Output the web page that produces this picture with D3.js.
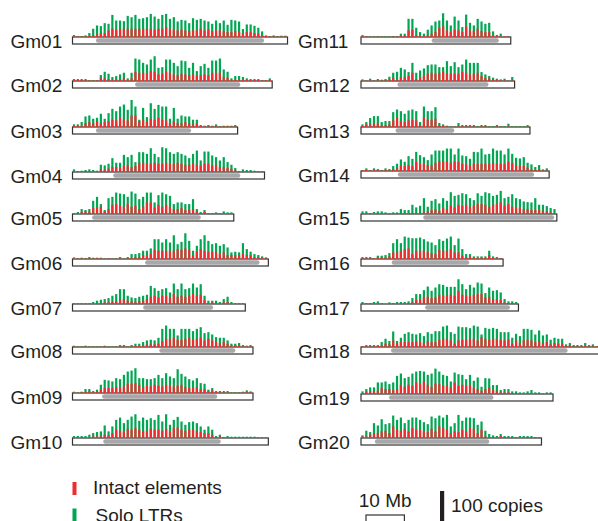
<!DOCTYPE html>
<html>
<head>
<meta charset="utf-8">
<script src="https://cdn.jsdelivr.net/npm/d3@7"></script>
<style>
  body { margin: 0; background: #fff; }
  svg { display: block; font-family: "Liberation Sans", Arial, sans-serif; }
</style>
</head>
<body>
<div id="chart"></div>
<script>
// chromosome names, left column then right column
var chroms = ["Gm01","Gm02","Gm03","Gm04","Gm05","Gm06","Gm07","Gm08","Gm09","Gm10",
              "Gm11","Gm12","Gm13","Gm14","Gm15","Gm16","Gm17","Gm18","Gm19","Gm20"];

// pericentromeric region [start, end] in Mb
var pericentromere = [
  [6.1,49.9],[16.3,43.7],[6.1,30.9],[10.6,43.7],[5.1,33.4],
  [18.9,48.7],[18.4,36.6],[22.6,42.4],[7.7,37.7],[8,38.6],
  [18.4,35.9],[9.5,33.2],[9,24.3],[9.6,45.1],[16.2,50.3],
  [8,28.2],[16.7,38.8],[7.8,53.8],[7.3,34.5],[3.6,33.4]
];

// all LTR copies per 1 Mb bin (intact elements + solo LTRs)
var total = [
  [6,3,3,5,12,25,35,33,42,40,67,50,50,48,64,60,67,55,57,60,70,62,55,67,70,55,60,47,52,50,42,57,52,55,50,47,40,50,42,50,37,52,50,47,24,38,38,34,28,17,5,3,5,3,4,4],
  [6,6,6,6,3,3,3,18,28,22,12,15,20,25,8,25,68,65,55,50,65,75,40,42,65,65,55,45,62,60,40,55,30,45,52,40,62,62,68,35,28,8,15,15,12,8,6,6,6,3,3,8],
  [8,8,15,32,35,25,28,40,25,42,55,48,62,68,52,82,62,22,58,30,72,55,67,62,62,25,58,25,35,32,32,22,22,6,4,6,4,8,3,4,4,4,6],
  [8,3,4,6,8,6,4,22,20,25,42,28,28,52,45,52,30,60,60,55,72,55,45,75,72,60,55,60,55,50,42,55,65,35,62,62,50,45,35,45,30,22,12,3,8,6,6,4,3,3],
  [3,6,15,12,15,40,52,30,12,48,52,65,62,60,52,68,62,45,52,65,65,35,57,65,60,55,30,35,35,30,30,45,15,6,12,3,3,5,3,8,5,5],
  [5,3,4,3,6,4,4,4,2,3,2,2,6,2,6,15,15,18,25,25,32,60,60,50,60,50,72,45,52,78,55,25,40,60,72,55,45,48,40,45,35,20,22,20,48,30,22,15,12,8,5],
  [3,2,2,2,2,6,10,13,15,18,25,30,45,45,25,20,18,22,25,28,55,48,40,45,48,35,62,45,62,45,48,62,50,60,25,10,10,10,6,15,22,6,2,2,2],
  [4,2,2,4,2,2,2,2,4,2,2,2,6,6,2,6,10,10,15,20,22,20,28,55,65,55,55,35,55,55,55,48,55,60,42,45,38,30,28,28,20,10,10,12,6,4,6],
  [4,2,4,12,12,6,10,25,40,38,35,45,42,55,65,68,75,45,45,42,42,45,55,45,60,50,45,72,58,50,42,38,45,30,28,10,15,6,6,6,6,2,2,2,4,8,5],
  [6,6,6,6,10,15,18,20,38,20,35,55,62,45,55,65,72,52,62,55,60,55,70,50,72,40,55,64,50,40,48,50,45,35,25,35,25,6,10,3,6,4,4,4,4,4,4,4,2,2,2],
  [6,3,2,2,3,2,2,2,3,3,10,10,55,55,28,15,10,22,35,47,50,72,50,35,62,50,30,68,43,35,55,47,40,43,17,6,10,2,3],
  [5,2,7,2,6,4,6,13,25,28,40,35,27,55,25,32,38,48,50,50,42,42,60,45,57,42,50,65,55,55,55,27,20,15,10,7,5,7,2,12],
  [8,15,27,33,33,15,18,18,45,53,48,40,50,53,48,15,62,48,48,60,12,8,4,2,2,12,6,6,6,6,3,6,6,3,3,6,3,3,10,3,3,3,3,6],
  [3,8,3,8,6,3,8,6,15,22,35,28,45,37,58,48,42,33,50,62,62,62,68,68,50,68,47,45,37,58,57,68,50,52,68,62,62,50,68,52,40,38,42,25,20,12,18,5,8],
  [8,8,3,6,8,8,5,3,5,5,15,12,12,28,20,25,48,22,40,45,32,48,40,66,55,58,63,60,48,42,63,55,66,63,55,58,70,48,52,60,48,45,38,36,35,48,28,28,24,18,15],
  [6,6,6,3,10,10,12,18,48,60,48,68,65,63,63,65,60,53,50,42,60,55,62,68,42,62,30,15,15,8,8,8,8,25,8,6,3],
  [6,3,3,6,8,3,0,5,3,6,6,6,8,18,30,30,42,53,40,50,60,58,52,52,52,75,60,45,58,50,65,62,33,50,40,42,35,15,8,8,6],
  [3,6,6,6,6,15,25,18,47,18,28,40,45,40,38,42,33,45,40,48,48,62,65,45,40,62,60,60,57,65,62,38,58,55,58,55,45,45,45,28,40,33,55,55,52,38,50,35,38,22,28,25,25,8,12,6,6,6,12,6,8,3],
  [8,15,20,20,35,35,38,30,35,55,62,48,52,62,68,70,68,58,62,77,68,58,55,38,65,60,58,45,58,40,50,22,48,47,27,27,12,15,15,8,8,5,5,8,12,5,5,2,5,5],
  [8,22,18,45,38,57,42,45,68,55,62,45,55,62,62,55,48,42,65,60,68,62,70,35,45,70,52,62,62,60,40,50,22,12,8,6,12,6,6,6,3,6,6,6,6,3,3]
];

// intact elements per 1 Mb bin
var intact = [
  [2,2,2,2,3,5,8,12,12,20,25,22,25,25,25,25,25,25,25,25,25,22,25,25,30,25,22,20,22,20,18,20,20,25,20,22,18,20,20,18,15,15,18,15,12,15,15,12,10,5,3,2,2,2,2,2],
  [3,3,3,3,2,2,2,8,8,6,4,4,6,8,3,8,28,25,25,22,30,28,20,22,28,25,20,18,22,20,18,20,15,18,20,18,25,25,25,12,10,4,3,3,3,3,3,3,3,2,2,3],
  [3,3,3,12,15,12,18,12,15,18,22,20,28,22,20,35,35,18,22,15,25,22,28,22,20,12,18,12,12,15,12,8,10,3,2,2,2,2,2,2,2,2,2],
  [3,2,2,3,3,3,2,8,6,10,15,15,12,18,20,15,18,28,28,25,25,28,25,25,28,25,25,28,25,22,22,25,22,20,25,25,20,22,15,15,12,10,5,2,3,2,2,2,2,2],
  [2,3,6,8,6,18,20,22,8,15,28,30,25,22,30,22,25,15,22,35,35,20,28,22,28,22,15,15,18,12,12,15,8,3,6,2,2,2,2,2,2,2],
  [2,2,2,2,2,2,2,2,1,2,1,1,2,1,2,3,5,5,12,10,15,28,25,25,25,25,25,30,28,32,28,12,22,30,25,22,22,20,15,20,12,12,12,10,15,12,12,5,5,3,2],
  [1,1,1,1,1,2,3,3,5,5,6,8,15,15,10,8,6,8,10,15,22,25,20,25,25,18,30,22,25,22,25,30,25,28,12,3,5,3,2,5,6,2,1,1,1],
  [2,1,1,2,1,1,1,1,2,1,1,1,2,2,1,2,3,3,5,8,8,8,10,18,25,25,28,22,22,25,28,22,25,28,20,25,20,15,12,15,10,5,5,4,2,2,2],
  [2,1,2,3,5,3,3,10,15,15,15,18,15,20,28,28,30,25,18,22,20,25,22,20,25,22,20,22,25,18,15,15,18,12,12,5,8,3,2,2,2,1,1,1,2,2,2],
  [3,3,3,3,3,5,5,5,10,8,15,25,22,18,28,25,30,25,20,22,28,25,25,22,28,20,30,32,25,22,25,25,22,18,15,15,10,3,5,2,2,2,2,2,2,2,2,2,1,1,1],
  [2,2,1,1,2,1,1,1,2,2,3,3,20,22,5,3,3,5,10,15,28,32,20,15,22,20,15,32,20,18,25,18,15,15,5,3,2,2,2],
  [2,1,2,1,2,2,2,5,10,3,12,12,15,25,5,12,15,22,25,22,25,28,22,22,22,22,28,25,20,22,25,15,10,8,5,3,2,2,1,2],
  [3,8,8,10,10,5,5,8,20,28,18,15,20,22,20,5,28,22,22,25,5,3,2,1,1,2,2,2,2,2,1,2,2,1,1,2,1,1,2,1,1,1,1,2],
  [2,3,2,3,2,2,3,2,5,8,15,15,18,15,28,22,22,18,18,25,30,28,30,25,28,28,22,20,18,22,22,22,22,22,25,22,22,22,28,25,18,15,15,10,5,3,5,2,2],
  [2,2,1,2,2,2,2,1,2,2,3,3,3,3,3,3,5,8,12,15,10,18,15,25,20,28,25,28,22,25,30,30,28,22,28,30,35,25,30,22,20,18,15,15,12,12,12,10,8,5,3],
  [2,2,2,2,5,5,5,8,20,20,25,30,32,15,25,25,25,22,18,15,28,25,25,30,20,20,10,5,8,3,3,5,3,12,3,2,2],
  [2,2,2,2,3,2,0,2,2,2,2,2,3,5,12,15,22,22,18,20,28,25,25,28,25,40,28,25,25,28,30,30,20,22,15,15,12,5,3,3,2],
  [2,2,2,2,3,5,10,8,20,10,15,15,15,15,18,15,12,18,15,15,22,25,25,20,10,20,22,22,25,25,20,30,25,22,25,25,22,20,22,10,20,12,20,22,20,15,18,12,15,8,12,10,10,3,5,2,2,2,3,2,2,2],
  [3,8,8,8,10,18,15,15,12,15,28,22,28,25,35,32,38,28,22,32,30,25,25,20,35,25,28,25,28,18,15,10,15,20,12,10,5,5,5,3,2,2,2,2,2,2,2,1,2,2],
  [5,5,10,15,15,20,22,15,35,25,22,28,20,30,25,25,20,18,28,20,35,30,25,15,20,18,25,20,30,28,15,25,5,3,3,2,6,2,2,2,2,2,2,2,2,2,2]
];

var legendLabels = ["Intact elements", "Solo LTRs"];

var W = 598, H = 521;
var red = "#ee2d2f", green = "#00a651", grey = "#a8a8aa", ink = "#231f20";
var pxPerMb = 3.84;
var boxH = 7;

var svg = d3.select("#chart").append("svg")
    .attr("width", W).attr("height", H);

// copies -> pixel height (100 copies = 33 px)
var hScale = d3.scaleLinear().domain([0, 100]).range([0, 33]);

// top of each chromosome box, per column
var rowTops = [
  [37, 81, 127, 172, 214, 259, 304, 347, 393, 438],
  [37, 81, 127, 171, 214, 259, 304, 347, 394, 438]
];
var colX = [72.5, 361];
var labelX = [10.5, 298];

chroms.forEach(function(name, ci){
    var col = ci < 10 ? 0 : 1;
    var row = ci % 10;
    var top = rowTops[col][row];
    var n = total[ci].length;
    var x = d3.scaleLinear().domain([0, n]).range([colX[col], colX[col] + n * pxPerMb]);

    var g = svg.append("g").attr("class", "chrom");

    g.append("text")
        .attr("x", labelX[col])
        .attr("y", top + 10.5)
        .attr("fill", ink)
        .style("font-size", "19px")
        .text(name);

    // box
    g.append("rect")
        .attr("x", x(0)).attr("y", top)
        .attr("width", x(n) - x(0)).attr("height", boxH)
        .attr("fill", "#fff").attr("stroke", "#333").attr("stroke-width", 1.2);

    // pericentromere
    var p = pericentromere[ci];
    g.append("rect")
        .attr("x", x(p[0])).attr("y", top + 1.3)
        .attr("width", x(p[1]) - x(p[0])).attr("height", boxH - 2.6)
        .attr("rx", 2.2)
        .attr("fill", grey);

    var bins = total[ci].map(function(t, i){ return {i: i, total: t, intact: intact[ci][i]}; });

    g.selectAll("rect.solo").data(bins).enter().append("rect")
        .attr("class", "solo")
        .attr("x", function(d){ return x(d.i + 0.1); })
        .attr("width", 2.2)
        .attr("y", function(d){ return top - hScale(d.total); })
        .attr("height", function(d){ return hScale(d.total); })
        .attr("fill", green);

    g.selectAll("rect.intact").data(bins).enter().append("rect")
        .attr("class", "intact")
        .attr("x", function(d){ return x(d.i + 0.1); })
        .attr("width", 2.2)
        .attr("y", function(d){ return top - hScale(d.intact); })
        .attr("height", function(d){ return hScale(d.intact); })
        .attr("fill", red);
});

// legend
var legend = svg.append("g");
legend.selectAll("rect").data(legendLabels).enter().append("rect")
    .attr("x", 72.5)
    .attr("y", function(d, i){ return 482 + i * 26.5; })
    .attr("width", 4).attr("height", 13)
    .attr("fill", function(d, i){ return i == 0 ? red : green; });
legend.selectAll("text").data(legendLabels).enter().append("text")
    .attr("x", function(d, i){ return 93 + i * 2.5; })
    .attr("y", function(d, i){ return 493.5 + i * 28; })
    .attr("fill", ink)
    .style("font-size", "19px")
    .text(function(d){ return d; });

// scale bars
var mb10 = d3.scaleLinear().domain([0, 10]).range([366, 366 + 10 * pxPerMb]);
svg.append("text")
    .attr("x", (mb10(0) + mb10(10)) / 2).attr("y", 507)
    .attr("text-anchor", "middle")
    .attr("fill", ink)
    .style("font-size", "19px")
    .text("10 Mb");
svg.append("rect")
    .attr("x", mb10(0)).attr("y", 515)
    .attr("width", mb10(10) - mb10(0)).attr("height", boxH)
    .attr("fill", "#fff").attr("stroke", "#333").attr("stroke-width", 1.2);

svg.append("rect")
    .attr("x", 440).attr("y", 491)
    .attr("width", 4.2).attr("height", hScale(100))
    .attr("fill", ink);
svg.append("text")
    .attr("x", 451).attr("y", 512)
    .attr("fill", ink)
    .style("font-size", "19px")
    .text("100 copies");
</script>
</body>
</html>
